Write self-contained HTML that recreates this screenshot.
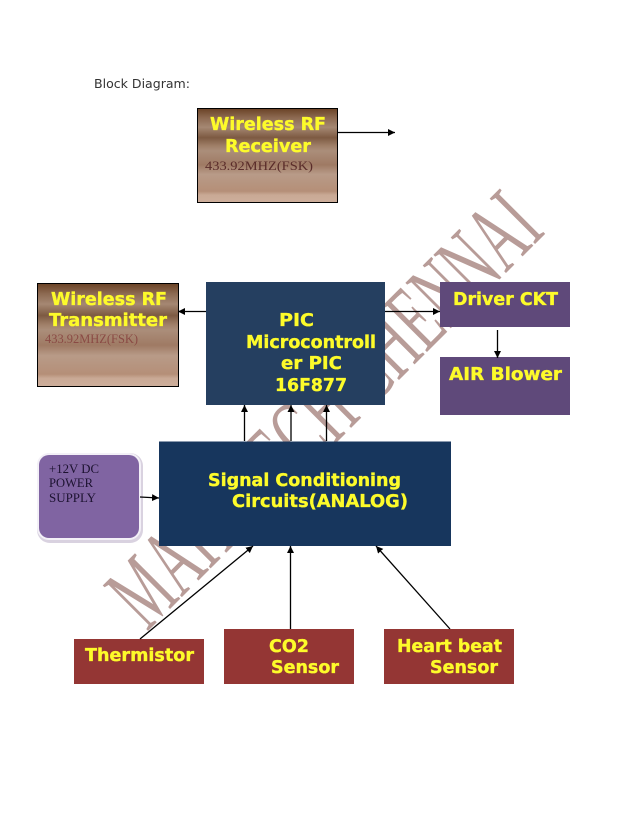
<!DOCTYPE html>
<html><head><meta charset="utf-8"><style>html,body{margin:0;padding:0;background:#fff;width:638px;height:826px;overflow:hidden}svg{display:block}
.b{font-family:"DejaVu Sans","Liberation Sans",sans-serif;font-weight:bold;font-size:17.5px;fill:#fdfb2a;stroke:#fdfb2a;stroke-width:.35px}
.s{font-family:"Liberation Serif",serif;font-size:13px}
</style></head><body>
<svg width="638" height="826" viewBox="0 0 638 826" xmlns="http://www.w3.org/2000/svg">
<defs>
<linearGradient id="br" x1="0" y1="0" x2="0" y2="1">
<stop offset="0" stop-color="#6a4225"/><stop offset=".1" stop-color="#8d6a52"/><stop offset=".2" stop-color="#a58873"/><stop offset=".31" stop-color="#7d5a42"/><stop offset=".4" stop-color="#a08069"/><stop offset=".45" stop-color="#ab8e7a"/><stop offset=".6" stop-color="#9f7a64"/><stop offset=".7" stop-color="#b89b88"/><stop offset=".88" stop-color="#b58f78"/><stop offset=".92" stop-color="#c9a995"/><stop offset="1" stop-color="#cdae9b"/>
</linearGradient>
<marker id="a" markerWidth="8" markerHeight="8" refX="7" refY="3.500" orient="auto" markerUnits="userSpaceOnUse"><path d="M0 0L7 3.500L0 7z" fill="#000"/></marker>
</defs>
<text x="94" y="88" font-family="DejaVu Sans,sans-serif" font-size="12.5" fill="#333" textLength="96" lengthAdjust="spacingAndGlyphs">Block Diagram:</text>

<text transform="translate(147 632) rotate(-45)" font-family="Liberation Serif,serif" font-size="98" fill="#b89c98" textLength="565" lengthAdjust="spacingAndGlyphs">MAHATECH CHENNAI</text>

<rect x="197.5" y="108.5" width="140" height="94" fill="url(#br)" stroke="#000"/>
<rect x="37.5" y="283.5" width="141" height="103" fill="url(#br)" stroke="#000"/>
<rect x="206" y="282" width="179" height="123" fill="#253f60"/>
<rect x="440" y="282" width="130" height="45" fill="#5f497a"/>
<rect x="440" y="357" width="130" height="58" fill="#5f497a"/>
<rect x="159" y="441.5" width="292" height="104.5" fill="#17365d"/>
<rect x="37" y="453" width="106" height="90" rx="13" fill="#d9d2e0"/>
<rect x="37" y="453" width="104" height="87" rx="12" fill="#f3f0f7"/>
<rect x="39" y="455" width="100" height="83" rx="10" fill="#8064a2"/>
<rect x="74" y="639" width="130" height="45" fill="#943634"/>
<rect x="224" y="629" width="130" height="55" fill="#943634"/>
<rect x="384" y="629" width="130" height="55" fill="#943634"/>

<g stroke="#000" stroke-width="1.3" fill="none">
<line x1="337" y1="132.500" x2="395" y2="132.500" marker-end="url(#a)"/>
<line x1="206" y1="311.500" x2="178" y2="311.500" marker-end="url(#a)"/>
<line x1="385" y1="311.500" x2="440" y2="311.500" marker-end="url(#a)"/>
<line x1="497.500" y1="330" x2="497.500" y2="358" marker-end="url(#a)"/>
<line x1="244.500" y1="441" x2="244.500" y2="405" marker-end="url(#a)"/>
<line x1="291" y1="441" x2="291" y2="405" marker-end="url(#a)"/>
<line x1="326.500" y1="441" x2="326.500" y2="405" marker-end="url(#a)"/>
<line x1="140" y1="497" x2="159" y2="498" marker-end="url(#a)"/>
<line x1="140" y1="639" x2="253" y2="546" marker-end="url(#a)"/>
<line x1="290.500" y1="629" x2="290.500" y2="546" marker-end="url(#a)"/>
<line x1="450" y1="629" x2="376" y2="546" marker-end="url(#a)"/>
</g>

<text class="b" x="210" y="130" textLength="116" lengthAdjust="spacingAndGlyphs">Wireless RF</text>
<text class="b" x="225" y="152" textLength="86" lengthAdjust="spacingAndGlyphs">Receiver</text>
<text class="s" x="205" y="170" fill="#5a2c2a" font-size="13.500" textLength="108" lengthAdjust="spacingAndGlyphs">433.92MHZ(FSK)</text>
<text class="b" x="51" y="305" textLength="116" lengthAdjust="spacingAndGlyphs">Wireless RF</text>
<text class="b" x="49" y="326" textLength="118" lengthAdjust="spacingAndGlyphs">Transmitter</text>
<text class="s" x="45" y="343" fill="#8a4a44" textLength="93" lengthAdjust="spacingAndGlyphs">433.92MHZ(FSK)</text>
<text class="b" x="279" y="326" textLength="35" lengthAdjust="spacingAndGlyphs">PIC</text>
<text class="b" x="246" y="348" textLength="130" lengthAdjust="spacingAndGlyphs">Microcontroll</text>
<text class="b" x="281" y="369" textLength="61" lengthAdjust="spacingAndGlyphs">er PIC</text>
<text class="b" x="275" y="391" textLength="72" lengthAdjust="spacingAndGlyphs">16F877</text>
<text class="b" x="453" y="305" textLength="105" lengthAdjust="spacingAndGlyphs">Driver CKT</text>
<text class="b" x="449" y="380" textLength="113" lengthAdjust="spacingAndGlyphs">AIR Blower</text>
<text class="b" x="208" y="486" textLength="193" lengthAdjust="spacingAndGlyphs">Signal Conditioning</text>
<text class="b" x="232" y="507" textLength="176" lengthAdjust="spacingAndGlyphs">Circuits(ANALOG)</text>
<text class="b" x="85" y="661" textLength="109" lengthAdjust="spacingAndGlyphs">Thermistor</text>
<text class="b" x="269" y="652" textLength="40" lengthAdjust="spacingAndGlyphs">CO2</text>
<text class="b" x="271" y="673" textLength="68" lengthAdjust="spacingAndGlyphs">Sensor</text>
<text class="b" x="397" y="652" textLength="105" lengthAdjust="spacingAndGlyphs">Heart beat</text>
<text class="b" x="430" y="673" textLength="68" lengthAdjust="spacingAndGlyphs">Sensor</text>
<text class="s" x="49" y="473" fill="#1c1230" textLength="50" lengthAdjust="spacingAndGlyphs">+12V DC</text>
<text class="s" x="49" y="487" fill="#1c1230" textLength="44" lengthAdjust="spacingAndGlyphs">POWER</text>
<text class="s" x="49" y="502" fill="#1c1230" textLength="47" lengthAdjust="spacingAndGlyphs">SUPPLY</text>
</svg>
</body></html>
